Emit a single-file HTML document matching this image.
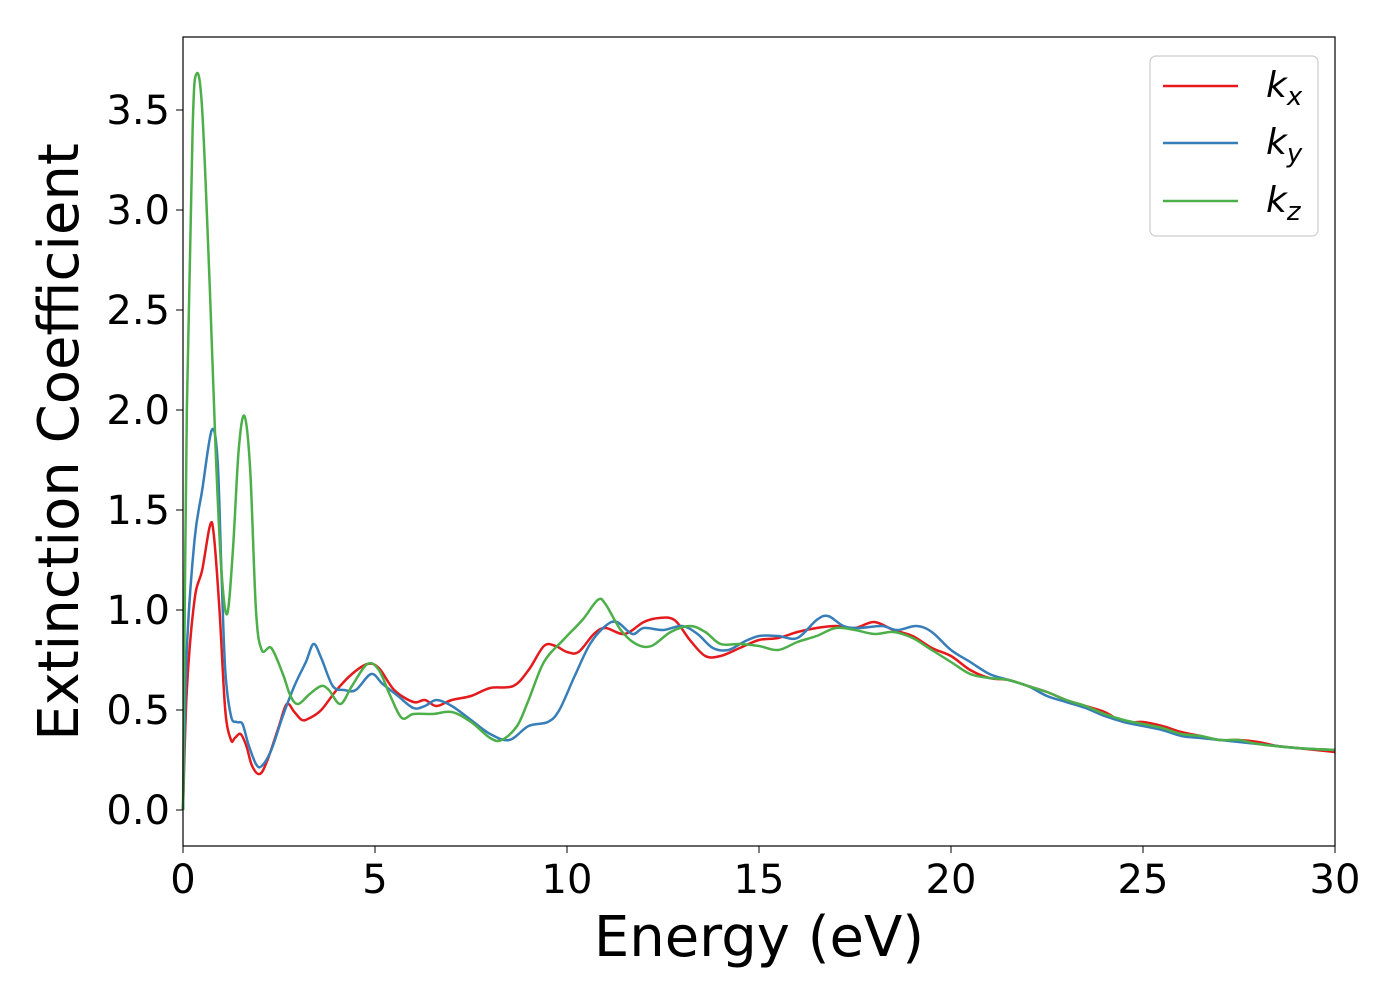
<!DOCTYPE html>
<html><head><meta charset="utf-8"><style>
body{margin:0;background:#fff}
svg{display:block;font-family:"DejaVu Sans","Liberation Sans",sans-serif}
</style></head><body>
<svg id="chart" width="1400" height="1000" viewBox="0 0 1400 1000">
<rect width="1400" height="1000" fill="#fff"/>
<g id="plot"></g>
<rect x="183" y="37" width="1152" height="809" fill="none" stroke="#000" stroke-width="1.2"/>
<g id="xt"></g><g id="yt"></g>
<text x="759" y="956" font-size="56" text-anchor="middle">Energy (eV)</text>
<text transform="translate(78,442) rotate(-90)" font-size="56" text-anchor="middle">Extinction Coefficient</text>
<g>
<rect x="1150" y="56" width="168" height="180" rx="6" fill="#fff" stroke="#ccc" stroke-width="1.2"/>
<line x1="1163" y1="86" x2="1238" y2="86" stroke="#e41a1c" stroke-width="2.5"/>
<text x="1266" y="97" font-size="36" font-style="italic">k<tspan font-size="26" dy="8">x</tspan></text>
<line x1="1163" y1="143" x2="1238" y2="143" stroke="#377eb8" stroke-width="2.5"/>
<text x="1266" y="154" font-size="36" font-style="italic">k<tspan font-size="26" dy="8">y</tspan></text>
<line x1="1163" y1="201" x2="1238" y2="201" stroke="#4daf4a" stroke-width="2.5"/>
<text x="1266" y="212" font-size="36" font-style="italic">k<tspan font-size="26" dy="8">z</tspan></text>
</g>
</svg>
<script>
const xTicks=[0,5,10,15,20,25,30];
const yTicks=[0.0,0.5,1.0,1.5,2.0,2.5,3.0,3.5];
const kxE=[0,0.1,0.3,0.5,0.7,0.8,0.95,1.1,1.25,1.35,1.5,1.65,1.8,2.0,2.2,2.5,2.7,2.9,3.1,3.3,3.6,4.0,4.4,4.8,5.1,5.5,6.0,6.3,6.6,7.0,7.5,8.0,8.6,9.0,9.4,9.7,10.0,10.3,10.7,11.0,11.5,12.0,12.4,12.8,13.2,13.6,14.0,14.5,15.0,15.5,16.0,16.5,17.0,17.5,18.0,18.5,19.0,19.5,20.0,20.5,21,21.5,22,22.5,23,23.5,24,24.5,25,25.5,26,26.5,27,27.5,28,28.5,29,29.5,30];
const kxV=[0,0.6,1.05,1.2,1.42,1.38,1.0,0.5,0.35,0.36,0.38,0.32,0.22,0.18,0.25,0.42,0.53,0.49,0.45,0.46,0.5,0.6,0.68,0.73,0.71,0.6,0.54,0.55,0.52,0.55,0.57,0.61,0.62,0.7,0.82,0.82,0.79,0.79,0.88,0.91,0.88,0.94,0.96,0.95,0.85,0.77,0.77,0.81,0.85,0.86,0.89,0.91,0.92,0.91,0.94,0.9,0.87,0.81,0.77,0.7,0.66,0.65,0.62,0.59,0.55,0.52,0.49,0.44,0.44,0.42,0.39,0.37,0.35,0.35,0.34,0.32,0.31,0.3,0.29];
const kyE=[0,0.1,0.3,0.5,0.75,0.9,1.0,1.1,1.25,1.4,1.55,1.7,1.9,2.05,2.3,2.6,2.9,3.2,3.4,3.6,3.9,4.2,4.5,4.9,5.2,5.6,6.0,6.3,6.6,7.0,7.5,8.0,8.5,9.0,9.5,9.8,10.2,10.6,11.0,11.3,11.7,12.0,12.5,13.0,13.4,13.8,14.2,14.6,15.0,15.5,16.0,16.5,16.8,17.2,17.6,18.2,18.6,19.1,19.5,20.0,20.5,21,21.5,22,22.5,23,23.5,24,24.5,25,25.5,26,26.5,27,27.5,28,29,30];
const kyV=[0,0.8,1.35,1.6,1.9,1.75,1.2,0.7,0.47,0.44,0.43,0.33,0.23,0.22,0.3,0.47,0.62,0.74,0.83,0.76,0.62,0.6,0.6,0.68,0.63,0.57,0.51,0.52,0.55,0.52,0.45,0.38,0.35,0.42,0.44,0.5,0.67,0.83,0.92,0.94,0.88,0.91,0.9,0.92,0.88,0.81,0.8,0.84,0.87,0.87,0.86,0.95,0.97,0.92,0.91,0.92,0.9,0.92,0.89,0.8,0.74,0.68,0.65,0.62,0.57,0.54,0.51,0.47,0.44,0.42,0.4,0.37,0.36,0.35,0.34,0.33,0.31,0.3];
const kzE=[0,0.1,0.25,0.35,0.5,0.7,0.85,1.0,1.15,1.3,1.45,1.6,1.75,1.9,2.05,2.3,2.6,2.8,3.0,3.3,3.6,3.8,4.1,4.4,4.8,5.1,5.4,5.7,6.0,6.5,7.0,7.5,8.0,8.3,8.7,9.0,9.4,9.9,10.4,10.8,11.0,11.4,11.8,12.2,12.7,13.2,13.6,14.0,14.5,15.0,15.5,16.0,16.5,17.0,17.5,18.0,18.5,19.0,19.5,20.0,20.5,21,21.5,22,22.5,23,23.5,24,24.5,25,25.5,26,26.5,27,27.5,28,29,30];
const kzV=[0,2.0,3.4,3.68,3.5,2.6,1.8,1.2,0.98,1.3,1.8,1.97,1.7,1.0,0.8,0.81,0.68,0.57,0.53,0.58,0.62,0.6,0.53,0.62,0.73,0.7,0.57,0.46,0.48,0.48,0.49,0.44,0.36,0.35,0.42,0.55,0.74,0.85,0.95,1.05,1.03,0.9,0.83,0.82,0.89,0.92,0.89,0.83,0.83,0.82,0.8,0.84,0.87,0.91,0.9,0.88,0.89,0.86,0.8,0.74,0.68,0.66,0.65,0.62,0.59,0.55,0.52,0.48,0.45,0.43,0.41,0.38,0.37,0.35,0.35,0.33,0.31,0.3];
const NS="http://www.w3.org/2000/svg";
const X=e=>183+e*38.4, Y=v=>810-v*200;
function pathD(E,V){const p=E.map((e,i)=>[X(e),Y(V[i])]);let d=`M${p[0][0]},${p[0][1]}`;
for(let i=0;i<p.length-1;i++){const a=p[i-1]||p[i],b=p[i],c=p[i+1],n=p[i+2]||c;
d+=`C${b[0]+(c[0]-a[0])/6},${b[1]+(c[1]-a[1])/6} ${c[0]-(n[0]-b[0])/6},${c[1]-(n[1]-b[1])/6} ${c[0]},${c[1]}`;}return d;}
const plot=document.getElementById('plot');
[[kxE,kxV,'#e41a1c','series-kx'],[kyE,kyV,'#377eb8','series-ky'],[kzE,kzV,'#4daf4a','series-kz']].forEach(s=>{
const el=document.createElementNS(NS,'path');el.setAttribute('d',pathD(s[0],s[1]));el.setAttribute('fill','none');el.setAttribute('stroke',s[2]);el.setAttribute('stroke-width','2.5');


plot.appendChild(el);});
const xt=document.getElementById('xt');
xTicks.forEach(t=>{const l=document.createElementNS(NS,'line');l.setAttribute('x1',X(t));l.setAttribute('x2',X(t));l.setAttribute('y1',846);l.setAttribute('y2',853);l.setAttribute('stroke','#000');xt.appendChild(l);
const tx=document.createElementNS(NS,'text');tx.setAttribute('x',X(t));tx.setAttribute('y',893);tx.setAttribute('font-size','40');tx.setAttribute('text-anchor','middle');tx.textContent=t;


xt.appendChild(tx);});
const yt=document.getElementById('yt');
yTicks.forEach(t=>{const l=document.createElementNS(NS,'line');l.setAttribute('x1',176);l.setAttribute('x2',183);l.setAttribute('y1',Y(t));l.setAttribute('y2',Y(t));l.setAttribute('stroke','#000');yt.appendChild(l);
const tx=document.createElementNS(NS,'text');tx.setAttribute('x',170);tx.setAttribute('y',Y(t)+14);tx.setAttribute('font-size','40');tx.setAttribute('text-anchor','end');tx.textContent=t.toFixed(1);


yt.appendChild(tx);});
</script>
</body></html>
